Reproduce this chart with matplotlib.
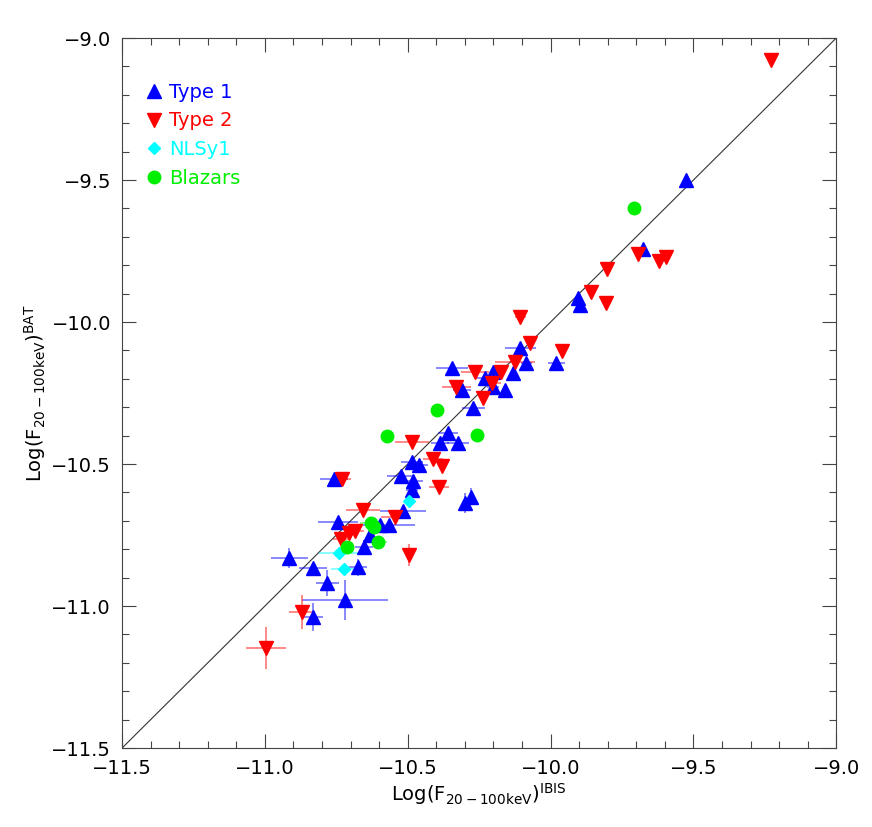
import matplotlib.pyplot as plt
from matplotlib.ticker import MultipleLocator, FuncFormatter

# Type 1 (blue up triangles)
t1_x = [-9.525, -9.676, -9.903, -9.896, -9.980, -10.085, -10.106, -10.131, -10.345, -10.229,
        -10.201, -10.201, -10.159, -10.310, -10.271, -10.359, -10.387, -10.324, -10.485, -10.460,
        -10.523, -10.481, -10.485, -10.299, -10.278, -10.516, -10.758, -10.744, -10.597, -10.565,
        -10.632, -10.653, -10.915, -10.831, -10.674, -10.782, -10.719, -10.831]
t1_y = [-9.500, -9.743, -9.915, -9.940, -10.144, -10.144, -10.092, -10.180, -10.162, -10.197,
        -10.176, -10.229, -10.239, -10.239, -10.303, -10.391, -10.426, -10.426, -10.493, -10.503,
        -10.542, -10.560, -10.591, -10.637, -10.616, -10.665, -10.553, -10.704, -10.715, -10.715,
        -10.750, -10.792, -10.831, -10.866, -10.863, -10.919, -10.979, -11.039]
t1_xerr = [0, 0, 0, 0, 0.03, 0.02, 0.055, 0, 0.055, 0.03,
           0, 0.02, 0, 0.03, 0.04, 0.035, 0.03, 0.04, 0.04, 0.03,
           0.05, 0.035, 0.02, 0, 0, 0.08, 0.05, 0.07, 0, 0.09,
           0, 0.03, 0.065, 0.05, 0.03, 0.04, 0.15, 0.035]
t1_yerr = [0, 0, 0, 0, 0, 0, 0, 0, 0, 0,
           0, 0, 0, 0, 0, 0, 0, 0, 0, 0,
           0, 0, 0, 0.035, 0.03, 0, 0, 0, 0, 0,
           0, 0.025, 0.035, 0, 0.03, 0.045, 0.07, 0.05]

# Type 2 (red down triangles)
t2_x = [-9.228, -9.693, -9.620, -9.595, -9.802, -9.858, -9.805, -10.106, -10.071, -9.959,
        -10.124, -10.264, -10.173, -10.204, -10.330, -10.236, -10.485, -10.411, -10.380, -10.390,
        -10.544, -10.730, -10.656, -10.733, -10.705, -10.684, -10.495, -10.870, -10.996]
t2_y = [-9.077, -9.761, -9.785, -9.771, -9.813, -9.894, -9.933, -9.982, -10.074, -10.102,
        -10.141, -10.176, -10.176, -10.215, -10.229, -10.268, -10.423, -10.482, -10.507, -10.581,
        -10.686, -10.553, -10.662, -10.764, -10.743, -10.736, -10.820, -11.021, -11.148]
t2_xerr = [0, 0, 0, 0, 0, 0, 0, 0.02, 0, 0.01,
           0.07, 0.05, 0.015, 0.03, 0.05, 0, 0.06, 0.035, 0, 0.035,
           0.05, 0.03, 0.06, 0.03, 0.03, 0.03, 0, 0.045, 0.07]
t2_yerr = [0, 0, 0, 0, 0, 0, 0, 0, 0, 0,
           0, 0, 0, 0, 0, 0, 0, 0, 0, 0,
           0, 0, 0.02, 0, 0, 0, 0.04, 0.06, 0.075]

# NLSy1 (cyan diamonds)
nl_x = [-10.495, -10.740, -10.723]
nl_y = [-10.630, -10.813, -10.870]
nl_xerr = [0, 0.07, 0.045]
nl_yerr = [0, 0, 0]

# Blazars (green circles)
bl_x = [-9.707, -10.397, -10.572, -10.257, -10.628, -10.618, -10.712, -10.604]
bl_y = [-9.599, -10.310, -10.401, -10.398, -10.708, -10.722, -10.792, -10.775]
bl_xerr = [0, 0, 0.01, 0.01, 0.04, 0.02, 0.02, 0.03]
bl_yerr = [0, 0, 0, 0, 0.02, 0, 0, 0]

lims = [-11.5, -9.0]

fig = plt.figure(figsize=(8.72, 8.27), dpi=100)
ax = fig.add_axes([0.140, 0.0955, 0.819, 0.8585])

groups = [
    (t1_x, t1_y, t1_xerr, t1_yerr, '^', 9.5, '#0000ff', 'Type 1'),
    (t2_x, t2_y, t2_xerr, t2_yerr, 'v', 9.5, '#ff0000', 'Type 2'),
    (nl_x, nl_y, nl_xerr, nl_yerr, 'D', 6.5, '#00ffff', 'NLSy1'),
    (bl_x, bl_y, bl_xerr, bl_yerr, 'o', 9.0, '#00ee00', 'Blazars'),
]

# error bars first, markers on top
for x, y, xe, ye, m, ms, c, lab in groups:
    ax.errorbar(x, y, xerr=xe, yerr=ye, fmt='none', ecolor=c, alpha=0.5,
                elinewidth=1.3, capsize=0, zorder=2)

handles = []
for x, y, xe, ye, m, ms, c, lab in groups:
    h, = ax.plot(x, y, linestyle='none', marker=m, markersize=ms, color=c,
                 markeredgecolor=c, label=lab, zorder=3)
    handles.append(h)

ax.plot(lims, lims, color='#333333', linewidth=0.8, zorder=1)

ax.set_xlim(lims)
ax.set_ylim(lims)
fmt = FuncFormatter(lambda v, p: ('%.1f' % v).replace('-', '\u2212'))
for a in (ax.xaxis, ax.yaxis):
    a.set_major_locator(MultipleLocator(0.5))
    a.set_minor_locator(MultipleLocator(0.1))
    a.set_major_formatter(fmt)
ax.tick_params(which='both', direction='in', top=True, right=True,
               color='#444444', width=0.8, labelsize=14, pad=8)
ax.tick_params(which='major', length=10)
ax.tick_params(which='minor', length=5)
for s in ax.spines.values():
    s.set_color('#444444')
    s.set_linewidth(0.8)

ax.set_xlabel(r'Log(F$_{\mathrm{20-100keV}}$)$^{\mathrm{IBIS}}$', fontsize=14, labelpad=2)
ax.set_ylabel(r'Log(F$_{\mathrm{20-100keV}}$)$^{\mathrm{BAT}}$', fontsize=14, labelpad=2)

ax.legend(handles=handles, loc='upper left', bbox_to_anchor=(0.0196, 0.948),
          borderaxespad=0, frameon=False, fontsize=14, handlelength=1.0,
          handletextpad=0.3, labelspacing=0.5, labelcolor='markerfacecolor')

fig.savefig('out.png', dpi=100)
